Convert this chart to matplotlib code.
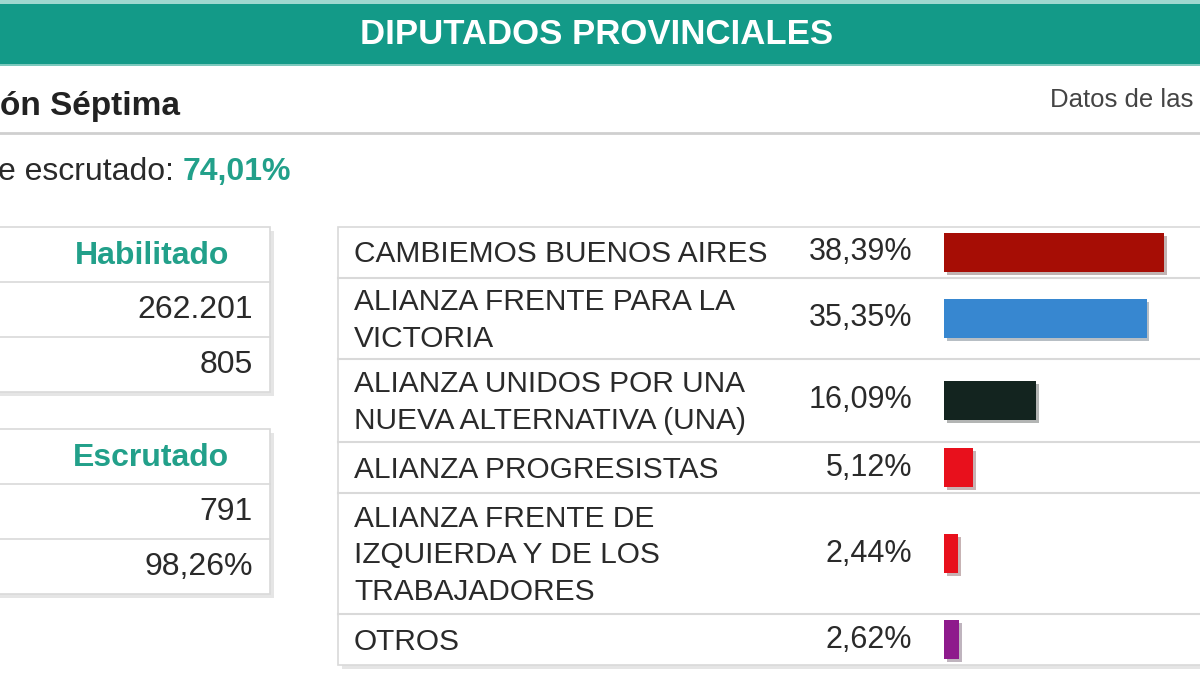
import matplotlib
matplotlib.use("Agg")
import matplotlib.pyplot as plt
import matplotlib.patheffects as pe
from matplotlib.patches import Rectangle

plt.rcParams['font.family'] = ['Liberation Sans', 'DejaVu Sans']

# data
parties = ["CAMBIEMOS BUENOS AIRES",
           "ALIANZA FRENTE PARA LA\nVICTORIA",
           "ALIANZA UNIDOS POR UNA\nNUEVA ALTERNATIVA (UNA)",
           "ALIANZA PROGRESISTAS",
           "ALIANZA FRENTE DE\nIZQUIERDA Y DE LOS\nTRABAJADORES",
           "OTROS"]
pct = [38.39, 35.35, 16.09, 5.12, 2.44, 2.62]
pct_labels = ["38,39%", "35,35%", "16,09%", "5,12%", "2,44%", "2,62%"]
bar_colors = ["#a60d05", "#3787d0", "#13241f", "#e8101c", "#e8101c", "#8e1a8c"]
habilitado = ["262.201", "805"]
escrutado = ["791", "98,26%"]
total_escrutado = "74,01%"

TEAL = "#139a88"
TEAL_TXT = "#22a08a"
DARK = "#2a2a2a"
LINE = "#d9d9d9"

fig = plt.figure(figsize=(12, 6.75), dpi=100)
ax = fig.add_axes([0, 0, 1, 1])
ax.set_xlim(0, 1200); ax.set_ylim(675, 0); ax.axis("off")

shadow = [pe.SimplePatchShadow(offset=(3, -3), shadow_rgbFace="#000000", alpha=0.10), pe.Normal()]

# header band
ax.add_patch(Rectangle((0, 0), 1200, 4, color="#9fd8cf", lw=0))
ax.add_patch(Rectangle((0, 4), 1200, 61, color=TEAL, lw=0))
ax.add_patch(Rectangle((0, 64), 1200, 2, color="#7cc9bd", lw=0))
ax.text(597, 35, "DIPUTADOS PROVINCIALES", color="white", fontsize=25, fontweight="bold",
        ha="center", va="center")

ax.text(0, 107, "ón Séptima", color="#222222", fontsize=24, fontweight="bold", ha="left", va="center")
ax.text(1050, 100, "Datos de las", color="#444444", fontsize=18.5, ha="left", va="center")
ax.plot([0, 1200], [133, 133], color="#cfcfcf", lw=2)

t1 = ax.text(-2, 172, "e escrutado: ", color=DARK, fontsize=23, ha="left", va="center")
ax.annotate(total_escrutado, xy=(1, 0.5), xycoords=t1, ha="left", va="center",
            color=TEAL_TXT, fontsize=23, fontweight="bold")

# left boxes
def side_box(y0, title, vals):
    box = Rectangle((-5, y0), 275, 165, facecolor="white", edgecolor=LINE, lw=1.2)
    box.set_path_effects(shadow)
    ax.add_patch(box)
    ax.text(229, y0 + 29, title, color=TEAL_TXT, fontsize=23, fontweight="bold", ha="right", va="center")
    for i, v in enumerate(vals):
        yl = y0 + 55 + i * 55
        ax.plot([-5, 270], [yl, yl], color=LINE, lw=1.2)
        ax.text(253, yl + 28, v, color=DARK, fontsize=23, ha="right", va="center")

side_box(227, "Habilitado", habilitado)
side_box(429, "Escrutado", escrutado)

# results table
rows = [227, 278, 359, 442, 493, 614, 665]
centers = [(rows[i] + rows[i + 1]) / 2 for i in range(len(parties))]
tbl = Rectangle((338, rows[0]), 900, rows[-1] - rows[0], facecolor="white", edgecolor=LINE, lw=1.2)
tbl.set_path_effects(shadow)
ax.add_patch(tbl)
for yl in rows[1:-1]:
    ax.plot([338, 1200], [yl, yl], color=LINE, lw=1.5)
for name, lab, yc in zip(parties, pct_labels, centers):
    ax.text(354, yc + 2, name, color=DARK, fontsize=21.5, ha="left", va="center", linespacing=1.4)
    ax.text(912, yc, lab, color=DARK, fontsize=22, ha="right", va="center")

# bars in their own axes, x in percent
bax = fig.add_axes([944 / 1200, 0, 256 / 1200, 1])
bax.set_xlim(0, 256 / 5.73); bax.set_ylim(675, 0); bax.axis("off")
bars = bax.barh(centers, pct, height=39, color=bar_colors, left=0)
for b in bars:
    b.set_path_effects([pe.SimplePatchShadow(offset=(2, -2), alpha=0.3), pe.Normal()])

fig.savefig("out.png", dpi=100, facecolor="white")
